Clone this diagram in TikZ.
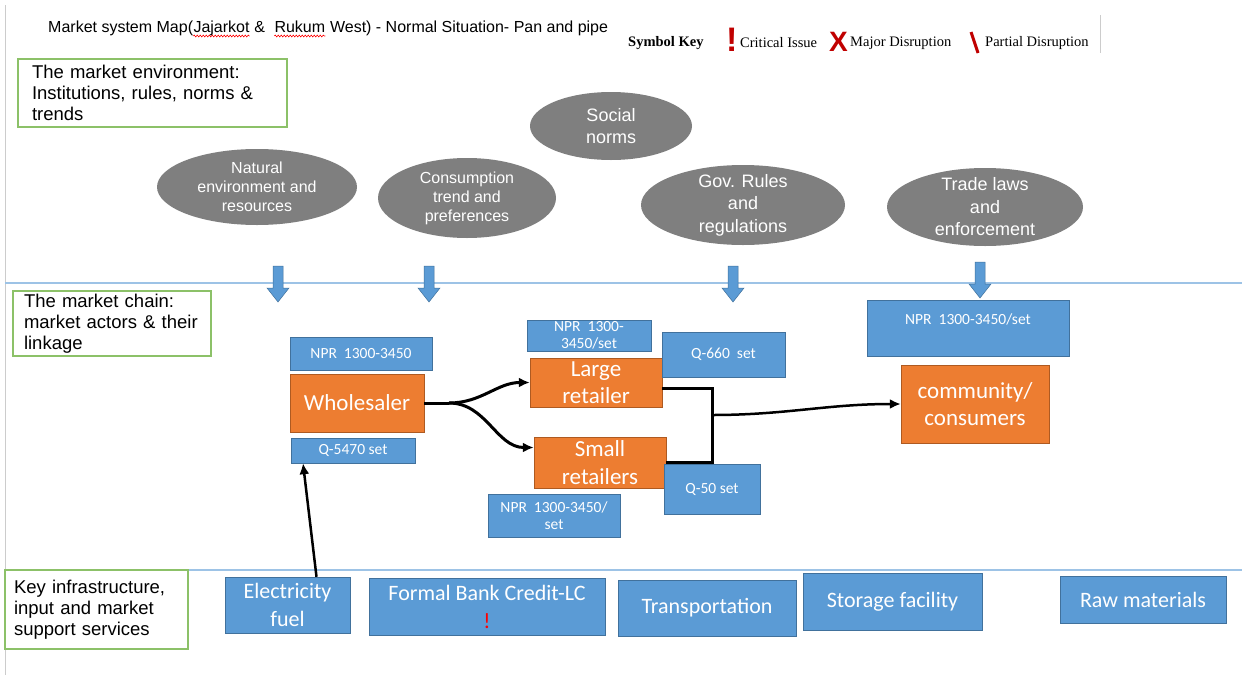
\documentclass[tikz,border=0pt]{standalone}
\usepackage{fontspec}
\setmainfont{Liberation Sans}
\newfontfamily\calibri{Carlito}
\newfontfamily\timesfont{Liberation Serif}
\usetikzlibrary{shapes.geometric,arrows.meta,decorations.pathmorphing}

\definecolor{envgray}{HTML}{7F7F7F}
\definecolor{boxblue}{HTML}{5B9BD5}
\definecolor{boxblueline}{HTML}{41719C}
\definecolor{actororange}{HTML}{ED7D31}
\definecolor{actorline}{HTML}{AE5A21}
\definecolor{layergreen}{HTML}{8CC168}
\definecolor{layerline}{HTML}{9DC3E6}
\definecolor{keyred}{HTML}{C00000}

\begin{document}
\begin{tikzpicture}[x=1pt,y=-1pt,
  envnode/.style={ellipse,fill=envgray,text=white,inner sep=-10pt,align=center},
  layerbox/.style={draw=layergreen,fill=white,line width=1.2pt,inner sep=0pt,align=left,
    font=\fontsize{18.5}{21}\selectfont},
  pricebox/.style={draw=boxblueline,fill=boxblue,text=white,inner sep=0pt,align=center,
    font=\calibri\fontsize{15.5}{17}\selectfont},
  actor/.style={draw=actorline,fill=actororange,text=white,inner sep=0pt,align=center,
    font=\calibri\fontsize{23}{27.5}\selectfont},
  service/.style={pricebox,font=\calibri\fontsize{22}{28}\selectfont},
  chainline/.style={line width=3pt},
  chainarrow/.style={chainline,-{Latex[length=11pt,width=10pt]}},
  titlepart/.style={anchor=base west,inner sep=0pt,font=\fontsize{16}{19}\selectfont},
  spellwave/.style={red,line width=0.6pt,decorate,decoration={snake,amplitude=0.9pt,segment length=3pt}}]

\useasboundingbox (0,0) rectangle (1242,675);

% page edge and the three layers
\draw[gray!40] (5,5) -- (5,675);
\draw[layerline,line width=2pt] (5,283) -- (1242,283);
\draw[layerline,line width=2pt] (5,570) -- (1242,570);

% title, with the spell-check marks under the place names
\node[titlepart] at (48,32) (title) {Market system Map(};
\node[titlepart] at (title.base east) (titlejaj) {Jajarkot};
\node[titlepart] at (titlejaj.base east) (titleamp) {\kern4.5pt\&\kern9pt};
\node[titlepart] at (titleamp.base east) (titlerukum) {Rukum};
\node[titlepart] at (titlerukum.base east) (titlerest) {\ West) - Normal Situation- Pan and pipe};
\draw[spellwave] ([yshift=-4pt]titlejaj.base west) -- ([yshift=-4pt]titlejaj.base east);
\draw[spellwave] ([yshift=-4pt]titlerukum.base west) -- ([yshift=-4pt]titlerukum.base east);

% symbol key
\begin{scope}[every node/.style={anchor=west,inner sep=0pt,font=\timesfont\fontsize{14.5}{17}\selectfont}]
  \node at (628,43) (keytitle) {\bfseries Symbol Key};
  \node[text=keyred,font=\bfseries\fontsize{34}{34}\selectfont] at (726,40) (critmark) {!};
  \node at (740,43) (critical) {Critical Issue};
  \node[text=keyred,font=\bfseries\fontsize{28}{28}\selectfont] at (829,42) (majormark) {X};
  \node at (850,43) (major) {Major Disruption};
  \node at (985,43) (partial) {Partial Disruption};
\end{scope}
\draw[keyred,line width=3pt] (971,32) -- (978,53);
\draw[gray!40] (1100,15) -- (1100,53);

% market environment
\node[layerbox,minimum width=269pt,minimum height=68pt,text width=241pt] at (152.5,93) (envbox)
  {The market environment:\\Institutions, rules, norms \&\\trends};
\begin{scope}[every node/.style={envnode}]
  \node[minimum width=200pt,minimum height=76pt,font=\fontsize{16}{19}\selectfont] at (257,187) (natural)
    {Natural\\environment and\\resources};
  \node[minimum width=178pt,minimum height=80pt,font=\fontsize{16}{19}\selectfont] at (467,198) (consumption)
    {Consumption\\trend and\\preferences};
  \node[minimum width=162pt,minimum height=68pt,font=\fontsize{18}{22}\selectfont] at (611,126) (social)
    {Social\\norms};
  \node[minimum width=204pt,minimum height=80pt,font=\fontsize{18}{22.5}\selectfont] at (743,205) (govrules)
    {Gov. Rules\\and\\regulations};
  \node[minimum width=196pt,minimum height=78pt,font=\fontsize{18}{22.5}\selectfont] at (985,207) (tradelaws)
    {Trade laws\\and\\enforcement};
\end{scope}

\foreach \ax/\ay in {278/266, 429/266, 733/266, 980/262}
  \filldraw[fill=boxblue,draw=boxblueline,line width=0.5pt]
    (\ax-5,\ay) -- (\ax+5,\ay) -- (\ax+5,\ay+22) -- (\ax+11,\ay+22) -- (\ax,\ay+36)
    -- (\ax-11,\ay+22) -- (\ax-5,\ay+22) -- cycle;

% market chain
\node[layerbox,minimum width=198pt,minimum height=65pt,text width=176pt] at (112,323.5) (chainbox)
  {The market chain:\\market actors \& their\\linkage};

\node[pricebox,minimum width=142pt,minimum height=33pt] at (361,353.5) (wsprice) {NPR\ \ 1300-3450};
\node[actor,minimum width=134pt,minimum height=58pt] at (357,403) (wholesaler) {Wholesaler};
\node[pricebox,minimum width=124pt,minimum height=25pt] at (353,450.5) (wsqty) {Q-5470 set};

\node[pricebox,minimum width=124pt,minimum height=31pt] at (589,335.5) (lrprice) {NPR\ \ 1300-\\3450/set};
\node[actor,minimum width=132pt,minimum height=49pt] at (596,382.5) (large) {Large\\retailer};
\node[pricebox,minimum width=123pt,minimum height=45pt] at (723.5,354.5) (lrqty) {Q-660\ \ set};

\node[actor,minimum width=132pt,minimum height=51pt] at (600,462.5) (small) {Small\\retailers};
\node[pricebox,minimum width=96pt,minimum height=50pt] at (712,489) (srqty) {Q-50 set};
\node[pricebox,minimum width=132pt,minimum height=43pt] at (554,515.5) (srprice) {NPR\ \ 1300-3450/\\set};

\node[pricebox,minimum width=202pt,minimum height=56pt] at (968,328) (cnprice)
  {\raisebox{4pt}[0pt][0pt]{NPR\ \ 1300-3450/set}};
\node[actor,minimum width=148pt,minimum height=78pt] at (975,404) (consumers) {community/\\consumers};

\coordinate (split) at (449,403);
\coordinate (join) at (712,415);
\draw[chainline] (wholesaler.east) -- (split);
\draw[chainarrow] (split) to[out=0,in=180] (large.west);
\draw[chainarrow] (split) to[out=0,in=180] ([yshift=15pt]small.west);
\draw[chainline] ([yshift=-6pt]large.east) -| (join) |- (small.east);
\draw[chainarrow,line width=2.5pt] (join) to[out=0,in=180] (consumers.west);

% support services
\node[layerbox,minimum width=183pt,minimum height=79pt,text width=165pt] at (96.5,609.5) (infrabox)
  {Key infrastructure,\\input and market\\support services};

\node[service,minimum width=125pt,minimum height=56pt] at (287.5,605) (fuel) {Electricity\\fuel};
\node[service,minimum width=236pt,minimum height=57pt] at (487,606.5) (credit)
  {Formal Bank Credit-LC\\{\color{red}!}};
\node[service,minimum width=178pt,minimum height=56pt] at (707,608) (transport) {Transportation};
\node[service,minimum width=179pt,minimum height=57pt] at (892.5,601.5) (storage) {Storage facility};
\node[service,minimum width=166pt,minimum height=47pt] at (1143,599.5) (raw) {Raw materials};

\draw[chainarrow,line width=2.5pt] ([xshift=29pt]fuel.north) -- ([xshift=-50pt]wsqty.south);
\end{tikzpicture}
\end{document}
